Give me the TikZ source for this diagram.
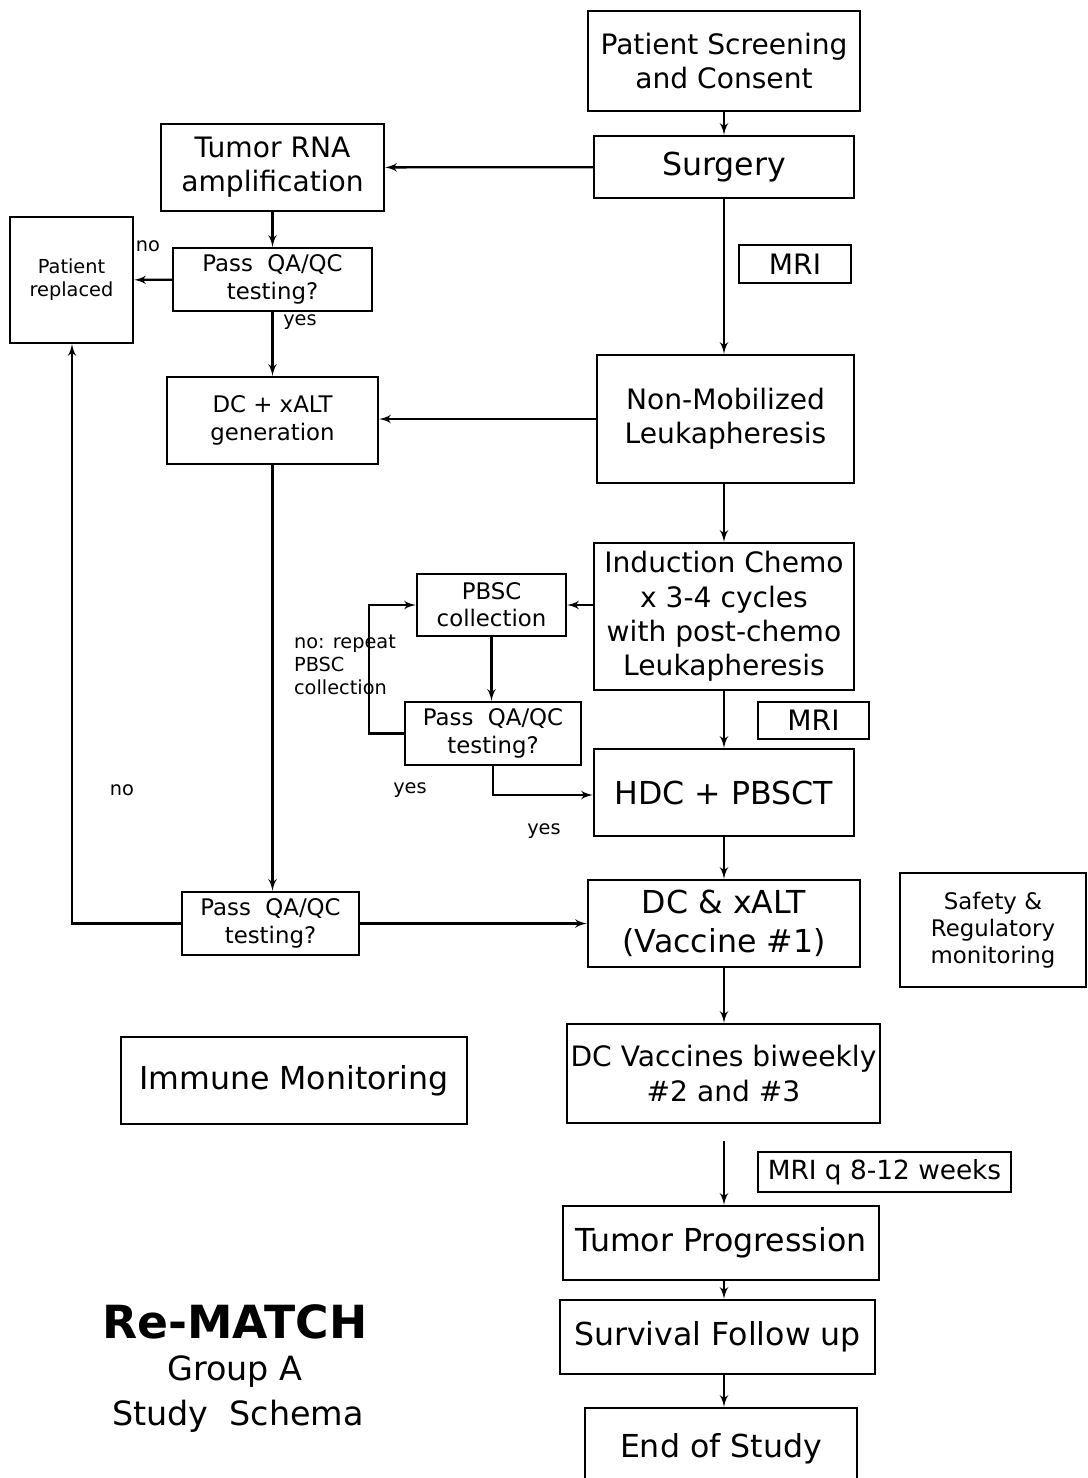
\documentclass[tikz,border=0pt]{standalone}
\usepackage{fontspec}
\setmainfont{DejaVu Sans}
\usepackage{tikz}
\usetikzlibrary{calc, shapes, arrows}

\begin{document}
\begin{tikzpicture}[x=0.02cm,y=-0.02cm]
\tikzstyle{line} = [draw, line width=1.3pt, -latex']
\tikzstyle{vertex}=[rectangle,draw,line width=1.4pt,align=center,inner sep=2pt]
\tikzstyle{tiny}=[font=\fontsize{11}{13}\selectfont]
\tikzstyle{small}=[font=\fontsize{13}{15.5}\selectfont]
\tikzstyle{medium}=[font=\fontsize{16}{19.5}\selectfont]
\tikzstyle{large}=[font=\fontsize{18}{22}\selectfont]
\useasboundingbox (0,0) rectangle (1088,1478);
\node[vertex,medium,minimum width=5.44cm,minimum height=2cm] (G_0) at (724,61) {Patient Screening\\and Consent};
\node[vertex,large,minimum width=5.2cm,minimum height=1.24cm] (G_1) at (724,167) {Surgery};
\node[vertex,medium,minimum width=4.46cm,minimum height=1.74cm] (G_2) at (272.5,167.5) {Tumor RNA\\amplification};
\node[vertex,medium,minimum width=2.24cm,minimum height=0.76cm] (G_3) at (795,264) {MRI};
\node[vertex,tiny,minimum width=2.46cm,minimum height=2.52cm] (G_4) at (71.5,280) {Patient\\replaced};
\node[vertex,small,minimum width=3.98cm,minimum height=1.26cm] (G_5) at (272.5,279.5) {Pass~ QA/QC\\testing?};
\node[vertex,small,minimum width=4.22cm,minimum height=1.74cm] (G_6) at (272.5,420.5) {DC + xALT\\generation};
\node[vertex,medium,minimum width=5.14cm,minimum height=2.56cm] (G_7) at (725.5,419) {Non-Mobilized\\Leukapheresis};
\node[vertex,medium,minimum width=5.2cm,minimum height=2.94cm] (G_8) at (724,616.5) {Induction Chemo\\x 3-4 cycles\\with post-chemo\\Leukapheresis};
\node[vertex,small,minimum width=2.98cm,minimum height=1.24cm] (G_9) at (491.5,605) {PBSC\\collection};
\node[vertex,small,minimum width=3.52cm,minimum height=1.26cm] (G_10) at (493,733.5) {Pass~ QA/QC\\testing?};
\node[vertex,medium,minimum width=2.22cm,minimum height=0.74cm] (G_11) at (813.5,720.5) {MRI};
\node[vertex,large,minimum width=5.2cm,minimum height=1.74cm] (G_12) at (724,792.5) {HDC + PBSCT};
\node[vertex,small,minimum width=3.54cm,minimum height=1.26cm] (G_13) at (270.5,923.5) {Pass~ QA/QC\\testing?};
\node[vertex,large,minimum width=5.44cm,minimum height=1.74cm] (G_14) at (724,923.5) {DC \& xALT\\(Vaccine \#1)};
\node[vertex,small,minimum width=3.72cm,minimum height=2.28cm] (G_15) at (993,930) {Safety \&\\Regulatory\\monitoring};
\node[vertex,large,minimum width=6.92cm,minimum height=1.74cm] (G_16) at (294,1080.5) {Immune Monitoring};
\node[vertex,medium,minimum width=6.18cm,minimum height=1.98cm] (G_17) at (723.5,1073.5) {DC Vaccines biweekly\\\#2 and \#3};
\node[vertex,font=\fontsize{15}{18}\selectfont,minimum width=5.06cm,minimum height=0.8cm] (G_18) at (884.5,1172) {MRI q 8-12 weeks};
\node[vertex,large,minimum width=6.32cm,minimum height=1.48cm] (G_19) at (721,1243) {Tumor Progression};
\node[vertex,large,minimum width=6.3cm,minimum height=1.48cm] (G_20) at (717.5,1337) {Survival Follow up};
\node[vertex,large,minimum width=5.44cm,minimum height=1.64cm] (G_21) at (721,1449) {End of Study};
\node[font=\bfseries\fontsize{26}{30}\selectfont] (T_0) at (235,1322) {Re-MATCH};
\node[font=\fontsize{19}{22}\selectfont] (T_1) at (235,1372) {Group A};
\node[font=\fontsize{19}{22}\selectfont] (T_2) at (238,1416) {Study~ Schema};
\node[tiny] (L_0) at (148,246) {no};
\node[tiny] (L_1) at (300,322) {yes};
\node[tiny,align=left] (L_2) at (345,665) {no: repeat\\PBSC\\collection};
\node[tiny] (L_3) at (122,790) {no};
\node[tiny] (L_4) at (410,790) {yes};
\node[tiny] (L_5) at (544,831) {yes};
\coordinate (C_0) at (369,733.5);
\coordinate (C_1) at (493,795);
\coordinate (C_2) at (72,923.5);
\path [line] (G_0) -- (G_1);
\path [line] (G_1) -- (G_2);
\path [line] (G_1.south) -- (G_1.south |- G_7.north);
\path [line] (G_2) -- (G_5);
\path [line] (G_5) -- (G_4);
\path [line] (G_5) -- (G_6);
\path [line] (G_7.west) -- (G_7.west -| G_6.east);
\path [line] (G_7.south -| G_1) -- (G_8.north -| G_1);
\path [line] (G_8.west |- G_9) -- (G_9.east);
\path [line] (G_9.south) -- (G_9.south |- G_10.north);
\path [line] (G_10.west) -- (C_0) |- (G_9.west);
\path [line] (G_10.south) -- (C_1) -- (C_1 -| G_12.west);
\path [line] (G_8) -- (G_12);
\path [line] (G_12) -- (G_14);
\path [line] (G_6.south) -- (G_6.south |- G_13.north);
\path [line] (G_13.west) -- (C_2) -- (G_4.south -| C_2);
\path [line] (G_13) -- (G_14);
\path [line] (G_14) -- (G_14 |- G_17.north);
\path [line, shorten <=9.7pt] (G_17.south -| G_1) -- (G_19.north -| G_1);
\path [line] (G_19.south -| G_1) -- (G_20.north -| G_1);
\path [line] (G_20.south -| G_1) -- (G_21.north -| G_1);

\end{tikzpicture}
\end{document}
